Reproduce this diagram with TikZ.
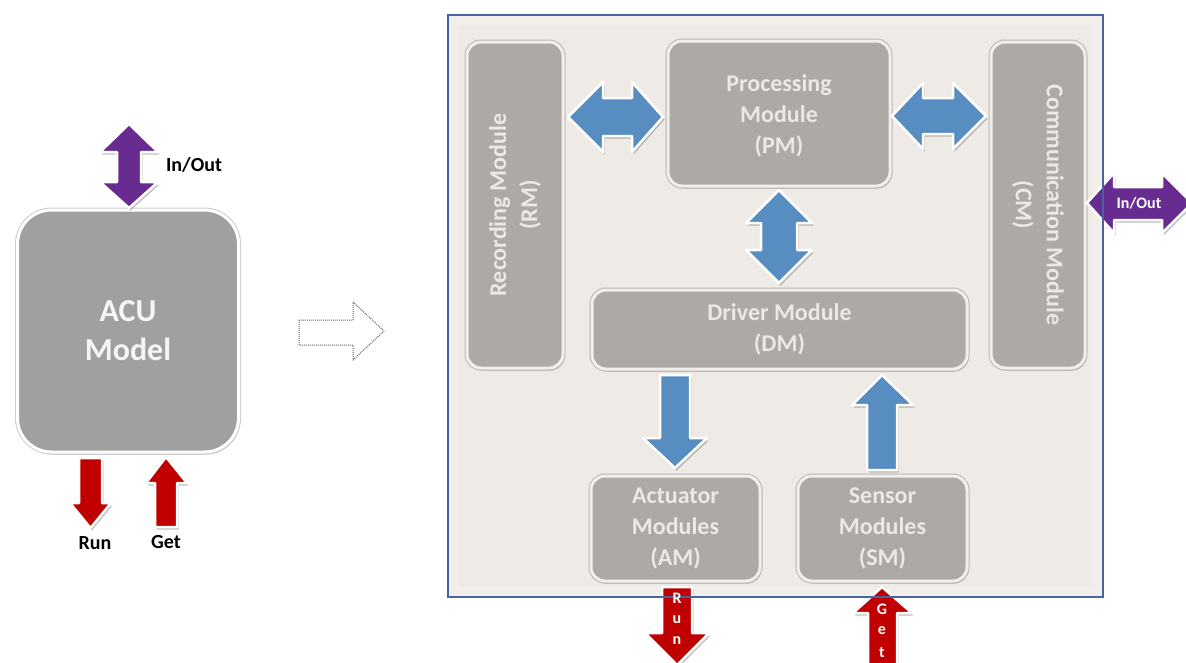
\documentclass[tikz,border=0pt]{standalone}
\usepackage{fontspec}
\setmainfont{Carlito}
\usetikzlibrary{shadows}
\definecolor{panelfill}{RGB}{238,234,229}
\definecolor{panelline}{RGB}{70,100,165}
\definecolor{modfill}{RGB}{173,169,164}
\definecolor{modedge}{RGB}{242,239,235}
\definecolor{modtext}{RGB}{236,232,227}
\definecolor{acufill}{RGB}{160,160,160}
\definecolor{arrblue}{RGB}{88,141,193}
\definecolor{arrpurple}{RGB}{104,44,145}
\definecolor{arrred}{RGB}{192,0,0}
\begin{document}
\begin{tikzpicture}[x=1pt,y=-1pt,
  shd/.style={drop shadow={shadow xshift=1.5pt,shadow yshift=-2.5pt,opacity=0.35,fill=black!70}},
  module/.style={draw=modedge,line width=3pt,fill=modfill,rounded corners=14pt,inner sep=0pt,shd,
    preaction={draw=black!28,line width=5pt}},
  modtxt/.style={text=modtext,font=\fontsize{24}{31}\selectfont\bfseries,align=center,inner sep=0pt},
  blockarrow/.style={draw=white,line width=2.5pt,line join=round,shd},
  bluearrow/.style={blockarrow,fill=arrblue},
  purplearrow/.style={blockarrow,fill=arrpurple},
  redarrow/.style={blockarrow,fill=arrred},
  lbl/.style={font=\fontsize{20}{24}\selectfont\bfseries,text=black,inner sep=0pt},
  letter/.style={font=\fontsize{16}{18}\selectfont\bfseries,text=white,inner sep=0pt}]
\useasboundingbox (0,0) rectangle (1186,662);
\clip (0,0) rectangle (1186,662);

% ---------- left: ACU model ----------
\node[draw=white,line width=3pt,fill=acufill,rounded corners=34pt,minimum width=221pt,minimum height=242pt,inner sep=0pt,shd,
  preaction={draw=black!20,line width=5pt}] (acu) at (128,331) {};
\node[text=white!96!black,font=\fontsize{32}{39}\selectfont\bfseries,align=center,inner sep=0pt] (acutxt) at (acu.center) {ACU\\Model};

\path[purplearrow] (129,124) -- (158,152) -- (141,152) -- (141,182) -- (158,182) -- (129,208) -- (100,182) -- (117,182) -- (117,152) -- (100,152) -- cycle;
\node[lbl] (inoutl) at (194,165) {In/Out};

\path[redarrow] (79,458) -- (102,458) -- (102,503) -- (111,503) -- (90.5,528) -- (70,503) -- (79,503) -- cycle;
\path[redarrow] (166,457) -- (187,483) -- (177,483) -- (177,527) -- (155,527) -- (155,483) -- (146,483) -- cycle;
\node[lbl] (runl) at (95,543) {Run};
\node[lbl] (getl) at (166,542) {Get};

% ---------- transition arrow ----------
\draw[gray!80!black,densely dotted,line width=1pt] (299,320) -- (353,320) -- (353,302) -- (384,331) -- (353,360) -- (353,345) -- (299,345) -- cycle;

% ---------- right panel ----------
\fill[panelfill] (448,15) rectangle (1103,597);
\fill[white,opacity=0.25,even odd rule] (448,15) rectangle (1103,597) (458,25) rectangle (1093,587);

\node[module,minimum width=96pt,minimum height=326pt] (rm) at (515,205) {};
\node[modtxt,rotate=90] (rmtxt) at (rm.center) {Recording Module\\(RM)};

\node[module,minimum width=222pt,minimum height=145pt] (pm) at (779,113.5) {};
\node[modtxt] (pmtxt) at (779,116) {Processing\\Module\\(PM)};

\node[module,minimum width=94pt,minimum height=326pt] (cm) at (1038,205) {};
\node[modtxt,rotate=-90] (cmtxt) at (cm.center) {Communication Module\\(CM)};

\node[module,minimum width=375pt,minimum height=79pt] (dm) at (779.5,329.5) {};
\node[modtxt] (dmtxt) at (dm.center) {Driver Module\\(DM)};

\node[module,minimum width=169pt,minimum height=105pt] (am) at (675.5,528.5) {};
\node[modtxt] (amtxt) at (am.center) {Actuator\\Modules\\(AM)};

\node[module,minimum width=169pt,minimum height=105pt] (sm) at (882.5,528.5) {};
\node[modtxt] (smtxt) at (sm.center) {Sensor\\Modules\\(SM)};

% blue connectors
\path[bluearrow] (568,117) -- (603,82) -- (603,98) -- (632,98) -- (632,82) -- (663,117) -- (632,152) -- (632,136) -- (603,136) -- (603,152) -- cycle;
\path[bluearrow] (892,116) -- (923,83) -- (923,98) -- (953,98) -- (953,83) -- (986,116) -- (953,149) -- (953,134) -- (923,134) -- (923,149) -- cycle;
\path[bluearrow] (779,190) -- (812,223) -- (797,223) -- (797,250) -- (812,250) -- (779,283) -- (746,250) -- (761,250) -- (761,223) -- (746,223) -- cycle;
\path[bluearrow] (660,375) -- (690,375) -- (690,438) -- (707,438) -- (675,468) -- (643,438) -- (660,438) -- cycle;
\path[bluearrow] (882,375) -- (913,405) -- (897,405) -- (897,470) -- (867,470) -- (867,405) -- (852,405) -- cycle;

% external arrows
\path[redarrow] (662,587) -- (692,587) -- (692,633) -- (709,633) -- (677,665) -- (645,633) -- (662,633) -- cycle;
\path[redarrow] (882,587) -- (912,613) -- (897,613) -- (897,668) -- (868,668) -- (868,613) -- (853,613) -- cycle;
\path[purplearrow] (1087,203) -- (1114,173) -- (1114,187) -- (1162,187) -- (1162,173) -- (1192,203) -- (1162,233) -- (1162,220) -- (1114,220) -- (1114,233) -- cycle;

\draw[panelline,line width=1.3pt] (448,15) rectangle (1103,597);

\node[letter] (r1) at (677,598) {R};
\node[letter] (r2) at (677,620) {u};
\node[letter] (r3) at (677,641) {n};
\node[letter] (g1) at (882,609) {G};
\node[letter] (g2) at (882,631) {e};
\node[letter] (g3) at (882,653) {t};
\node[font=\fontsize{16}{18}\selectfont\bfseries,text=white,inner sep=0pt] (inoutr) at (1139,203) {In/Out};
\end{tikzpicture}
\end{document}
